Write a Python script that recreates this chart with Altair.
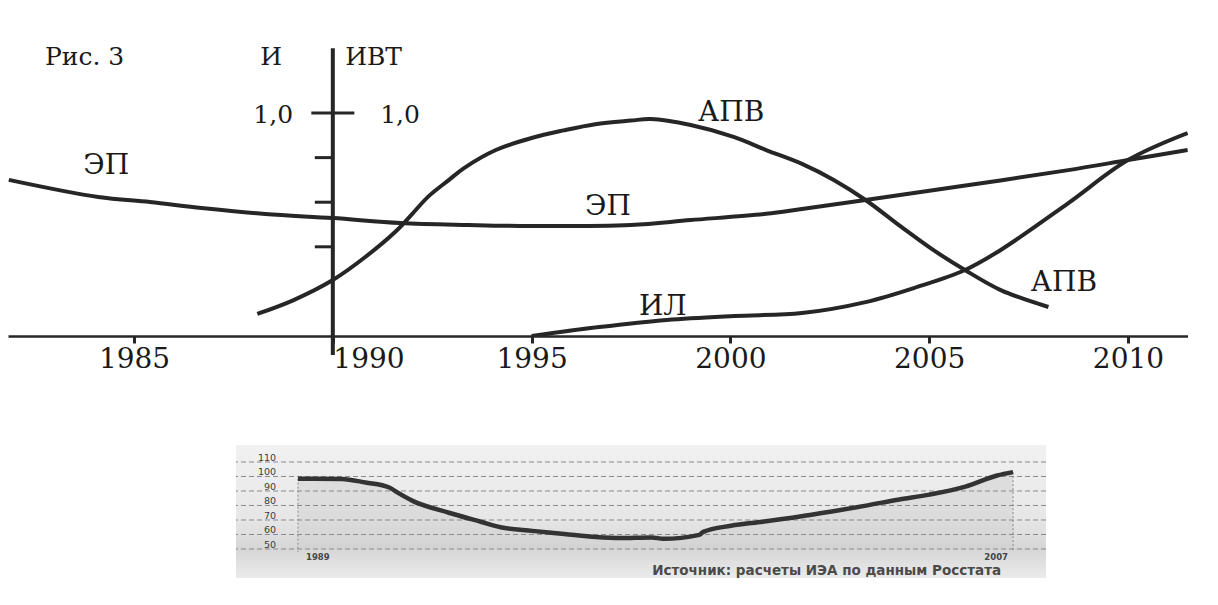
import altair as alt
import pandas as pd

# ---------------- main figure (Рис. 3) ----------------
ep_years = [1981.85, 1984.1, 1985.4, 1986.7, 1988.3, 1990.0, 1991.7, 1993.4, 1995.0,
            1997.5, 1999.0, 2000.9, 2001.8, 2003.4, 2006.0, 2008.5, 2010.0, 2011.5]
ep_values = [0.700, 0.623, 0.601, 0.574, 0.547, 0.529, 0.507, 0.498, 0.493,
             0.498, 0.520, 0.548, 0.570, 0.610, 0.677, 0.744, 0.789, 0.834]

apv_years = [1988.1, 1989.0, 1990.0, 1990.8, 1991.6, 1992.0, 1992.4, 1992.9, 1993.3, 1994.1,
             1995.0, 1995.8, 1996.6, 1997.5, 1998.0, 1999.0, 2000.1, 2000.9, 2001.8, 2002.6,
             2003.4, 2004.3, 2005.1, 2005.9, 2006.8, 2008.0]
apv_values = [0.099, 0.160, 0.251, 0.352, 0.472, 0.548, 0.625, 0.697, 0.753, 0.834,
              0.888, 0.922, 0.950, 0.966, 0.973, 0.946, 0.892, 0.834, 0.772, 0.700,
              0.610, 0.489, 0.386, 0.296, 0.206, 0.130]

il_years = [1995.0, 1996.7, 1998.4, 2000.1, 2001.8, 2003.4, 2004.7, 2005.9, 2006.8,
            2008.5, 2010.0, 2011.5]
il_values = [0.0, 0.040, 0.072, 0.090, 0.103, 0.152, 0.220, 0.296, 0.386,
             0.596, 0.789, 0.910]

x_tick_years = [1985, 1990, 1995, 2000, 2005, 2010]
y_axis_minor_ticks = [0.4, 0.6, 0.8]
y_axis_major_tick = [1.0]

series_label_text = ["ЭП", "ЭП", "АПВ", "ИЛ", "АПВ"]
series_label_year = [1984.30, 1996.92, 2000.02, 1998.30, 2008.39]
series_label_value = [0.762, 0.578, 0.998, 0.130, 0.238]

# ---------------- inset ----------------
inset_years = [1989.0, 1990.1, 1990.7, 1991.3, 1991.5, 1991.9, 1992.8, 1993.6, 1994.1,
               1994.9, 1995.7, 1996.5, 1997.1, 1997.9, 1998.2, 1999.1, 1999.2, 1999.9,
               2000.7, 2001.6, 2002.4, 2003.3, 2004.1, 2004.9, 2005.8, 2006.6, 2007.0]
inset_values = [98.5, 98.3, 95.8, 92.4, 89.0, 83.0, 75.0, 68.8, 65.0,
                62.5, 60.4, 58.3, 57.6, 58.0, 57.0, 59.7, 61.8, 66.0,
                68.8, 72.2, 75.7, 79.9, 84.0, 87.5, 93.0, 100.7, 103.0]
inset_grid = [50, 60, 70, 80, 90, 100, 110]
inset_end_years = [1989, 2007]
source_text = "Источник:  расчеты ИЭА по данным Росстата"

# ---------------- styling ----------------
INK = "#262626"
SERIF = "DejaVu Serif"
SANS = "DejaVu Sans"

xs = alt.Scale(domain=[1981.83, 2011.51], nice=False, zero=False)
ys = alt.Scale(domain=[0, 1.471], nice=False, zero=False)

x_axis = alt.Axis(
    values=x_tick_years, format="d", title=None, grid=False,
    domain=True, domainColor=INK, domainWidth=2.5,
    ticks=True, tickSize=7, tickWidth=3, tickColor=INK,
    labelFont=SERIF, labelFontSize=28, labelColor="#1a1a1a", labelPadding=2,
    labelAlign={"condition": {"test": "datum.value == 1990", "value": "left"}, "value": "center"},
    labelFlush=False, labelOverlap=False,
)


def X(field):
    return alt.X(field, type="quantitative", scale=xs, axis=x_axis)


def Y(field):
    return alt.Y(field, type="quantitative", scale=ys, axis=None)


curves = pd.concat([
    pd.DataFrame({"year": ep_years, "value": ep_values, "series": "ЭП"}),
    pd.DataFrame({"year": apv_years, "value": apv_values, "series": "АПВ"}),
    pd.DataFrame({"year": il_years, "value": il_values, "series": "ИЛ"}),
])

lines = alt.Chart(curves).mark_line(
    color=INK, strokeWidth=4, interpolate="catmull-rom", clip=True
).encode(x=X("year"), y=Y("value"), detail="series:N")

one = pd.DataFrame({"k": [0]})

v_axis = alt.Chart(one).mark_rule(color=INK, strokeWidth=4).encode(
    x=alt.X(datum=1990, type="quantitative", scale=xs, axis=x_axis),
    y=alt.Y(datum=-0.085, type="quantitative", scale=ys, axis=None),
    y2=alt.datum(1.291),
)

minor_ticks = alt.Chart(pd.DataFrame({"v": y_axis_minor_ticks, "x": 1990})).mark_tick(
    orient="horizontal", size=18, thickness=3, xOffset=-9, color=INK, opacity=1
).encode(x=X("x"), y=Y("v"))

major_tick = alt.Chart(pd.DataFrame({"v": y_axis_major_tick, "x": 1990})).mark_tick(
    orient="horizontal", size=43, thickness=3, color=INK, opacity=1
).encode(x=X("x"), y=Y("v"))

series_labels = alt.Chart(pd.DataFrame({
    "t": series_label_text, "x": series_label_year, "y": series_label_value
})).mark_text(font=SERIF, fontSize=28, color="#1a1a1a", align="center", baseline="middle").encode(
    x=X("x"), y=Y("y"), text="t:N")

hdr_left = alt.Chart(pd.DataFrame({
    "t": ["Рис. 3", "ИВТ", "1,0"], "x": [1982.76, 1990.31, 1991.19], "y": [1.251, 1.251, 0.992]
})).mark_text(font=SERIF, fontSize=25, color="#1a1a1a", align="left", baseline="middle").encode(
    x=X("x"), y=Y("y"), text="t:N")

hdr_center = alt.Chart(pd.DataFrame({
    "t": ["И"], "x": [1988.45], "y": [1.251]
})).mark_text(font=SERIF, fontSize=25, color="#1a1a1a", align="center", baseline="middle").encode(
    x=X("x"), y=Y("y"), text="t:N")

hdr_right = alt.Chart(pd.DataFrame({
    "t": ["1,0"], "x": [1989.0], "y": [0.992]
})).mark_text(font=SERIF, fontSize=25, color="#1a1a1a", align="right", baseline="middle").encode(
    x=X("x"), y=Y("y"), text="t:N")

top = alt.layer(
    lines, v_axis, minor_ticks, major_tick, series_labels, hdr_left, hdr_center, hdr_right
).properties(width=1180, height=328)

# ---------------- inset chart ----------------
ixs = alt.Scale(domain=[1987.44, 2007.83], nice=False, zero=False)
iys = alt.Scale(domain=[30, 121.7], nice=False, zero=False)


def IX(field):
    return alt.X(field, type="quantitative", scale=ixs, axis=None)


def IY(field):
    return alt.Y(field, type="quantitative", scale=iys, axis=None)


bg = alt.Chart(one).mark_rect(
    fill=alt.Gradient(
        gradient="linear", x1=0, y1=0, x2=0, y2=1,
        stops=[
            alt.GradientStop(offset=0, color="#f1f1f1"),
            alt.GradientStop(offset=0.55, color="#e7e7e7"),
            alt.GradientStop(offset=0.78, color="#d6d6d6"),
            alt.GradientStop(offset=1, color="#ebebeb"),
        ],
    )
).encode(opacity=alt.value(1))

inset_df = pd.DataFrame({"year": inset_years, "value": inset_values})

area = alt.Chart(inset_df).mark_area(color="#d2d2d2", opacity=0.55, interpolate="monotone").encode(
    x=IX("year"), y=IY("value"), y2=alt.datum(50))

grid = alt.Chart(pd.DataFrame({"g": inset_grid})).mark_rule(
    color="#8a8a8a", strokeWidth=1, strokeDash=[5, 3]
).encode(y=IY("g"))

ends = pd.DataFrame({"year": inset_end_years, "value": [inset_values[0], inset_values[-1]]})
end_rules = alt.Chart(ends).mark_rule(color="#8a8a8a", strokeWidth=1, strokeDash=[2, 2]).encode(
    x=IX("year"), y=IY("value"), y2=alt.datum(48))

inset_line = alt.Chart(inset_df).mark_line(
    color="#333333", strokeWidth=4.5, interpolate="monotone"
).encode(x=IX("year"), y=IY("value"))

grid_labels = alt.Chart(pd.DataFrame({"g": inset_grid, "x": 1988.45})).mark_text(
    font=SANS, fontSize=9.5, color="#3c3c3c", align="right", baseline="bottom", dy=1
).encode(x=IX("x"), y=IY("g"), text=alt.Text("g:Q", format="d"))

yr_left = alt.Chart(pd.DataFrame({"t": [str(inset_end_years[0])], "x": [inset_end_years[0]], "y": [44.5]})).mark_text(
    font=SANS, fontSize=8.5, color="#454545", align="left", baseline="middle", dx=8, fontWeight="bold"
).encode(x=IX("x"), y=IY("y"), text="t:N")

yr_right = alt.Chart(pd.DataFrame({"t": [str(inset_end_years[1])], "x": [inset_end_years[1]], "y": [44.5]})).mark_text(
    font=SANS, fontSize=8.5, color="#454545", align="right", baseline="middle", dx=-5, fontWeight="bold"
).encode(x=IX("x"), y=IY("y"), text="t:N")

src = alt.Chart(pd.DataFrame({"t": [source_text], "x": [2006.70], "y": [34.8]})).mark_text(
    font=SANS, fontSize=13.5, color="#4a4a4a", align="right", baseline="middle", fontWeight="bold"
).encode(x=IX("x"), y=IY("y"), text="t:N")

inset = alt.layer(
    bg, area, grid, end_rules, inset_line, grid_labels, yr_left, yr_right, src
).properties(width=810, height=133)

spacer = alt.Chart(one).mark_rect(opacity=0).encode(color=alt.value("white")).properties(
    width=227, height=133)

chart = alt.vconcat(
    top,
    alt.hconcat(spacer, inset, spacing=0),
    spacing=72,
).properties(
    padding={"left": 0, "top": 0, "right": 0, "bottom": 0},
    background="white",
).configure_view(strokeWidth=0, stroke="transparent")

chart.save("out.html", embed_options={"renderer": "svg", "actions": False})
